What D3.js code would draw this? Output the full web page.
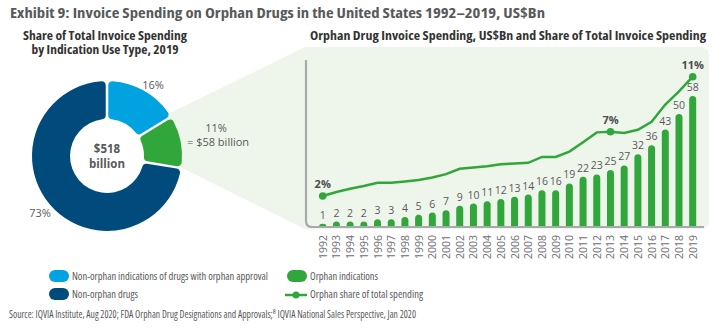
<!DOCTYPE html>
<html>
<head>
<meta charset="utf-8">
<script src="https://cdn.jsdelivr.net/npm/d3@7"></script>
<style>
  body { margin: 0; background: #fff; }
  svg text { font-family: 'Open Sans', sans-serif; font-stretch: 87.5%; fill: #58595b; }
  svg text.num { font-stretch: 100%; }
</style>
</head>
<body>
<svg id="chart" width="727" height="330"></svg>
<script>
// donut, 2019 share of total invoice spending
var segNames = ['Non-orphan indications of drugs with orphan approval', 'Orphan indications', 'Non-orphan drugs'];
var segShare = [16, 11, 73];
var segLabels = ['16%', '11%', '73%'];

// bars + line
var years = ['1992','1993','1994','1995','1996','1997','1998','1999','2000','2001','2002','2003','2004','2005',
             '2006','2007','2008','2009','2010','2011','2012','2013','2014','2015','2016','2017','2018','2019'];
var spend = [1,2,2,2,3,3,4,5,6,7,9,10,11,12,13,14,16,16,19,22,23,25,27,32,36,43,50,58];
var share = [2.0,2.3,2.55,2.75,3.0,3.0,3.1,3.2,3.4,3.65,4.05,4.15,4.25,4.4,4.45,4.5,4.95,4.95,5.35,6.05,6.8,6.85,6.75,7.0,7.6,8.9,9.9,11.0];
var shareLabels = {'1992': '2%', '2013': '7%', '2019': '11%'};

var lightBlue = '#00a3e0', darkBlue = '#004a7c', green = '#31a63a', panelFill = '#eef6eb';

var svg = d3.select('#chart');

// text helper, width forced so the condensed face lines up with the original
var label = (px, py, txt, size, w, bold, anchor, col) => {
  var t = svg.append('text').attr('x', px).attr('y', py)
     .style('font-size', size + 'px').text(txt);
  if (bold) t.style('font-weight', 'bold');
  if (anchor) t.attr('text-anchor', anchor);
  if (col) t.style('fill', col);
  if (w) t.attr('textLength', w).attr('lengthAdjust', 'spacingAndGlyphs');
  return t;
};

label(10, 18, 'Exhibit 9: Invoice Spending on Orphan Drugs in the United States 1992\u20132019, US$Bn', 15, 535, true);

label(105, 40, 'Share of Total Invoice Spending', 11.5, 164, true, 'middle', '#333');
label(105, 53.5, 'by Indication Use Type, 2019', 11.5, 147, true, 'middle', '#333');
label(508, 40, 'Orphan Drug Invoice Spending, US$Bn and Share of Total Invoice Spending', 11.5, 396, true, 'middle', '#333');

// zoom wedge + panel
svg.append('polygon').attr('points', '166,115 305,47 305,229 180,167').attr('fill', panelFill);
svg.append('rect').attr('x', 299).attr('y', 47).attr('width', 410).attr('height', 182)
   .attr('rx', 8).attr('fill', panelFill);

// donut
var cx = 107, cy = 156;
var pie = d3.pie().sort(null).startAngle(0).endAngle(2 * Math.PI).padAngle(0.03);
var arc = d3.arc().innerRadius(37).outerRadius(75).cornerRadius(4);
var arcs = pie(segShare);
var segColors = [lightBlue, green, darkBlue];
var donut = svg.append('g').attr('transform', 'translate(' + cx + ',' + cy + ')');
donut.selectAll('path').data(arcs).enter().append('path')
     .attr('d', arc).attr('fill', (d, i) => segColors[i]);

donut.append('text').attr('class', 'num').attr('x', 0).attr('y', -3).attr('text-anchor', 'middle')
     .style('font-size', '11.5px').style('font-weight', 'bold').text('$518');
donut.append('text').attr('class', 'num').attr('x', 0).attr('y', 12).attr('text-anchor', 'middle')
     .style('font-size', '11.5px').style('font-weight', 'bold').text('billion');

label(153, 89, segLabels[0], 11, null, false, 'middle').attr('class', 'num');
label(216, 132, segLabels[1], 11, null, false, 'middle').attr('class', 'num');
label(187, 146, '= $' + spend[spend.length - 1] + ' billion', 11).attr('class', 'num');
label(40, 217, segLabels[2], 11, null, false, 'middle').attr('class', 'num');

// bar chart
var x = d3.scalePoint().domain(years).range([315.85, 699.55]).padding(0.5);
var y = d3.scaleLinear().domain([0, 58]).range([226, 96]);
var yShare = d3.scaleLinear().domain([2, 11]).range([196, 76.7]);
var bw = 7;

var barPath = (d, i) => {
  var x0 = x(years[i]) - bw / 2, y0 = y(d), base = y(0), r = bw / 2;
  var h = base - y0;
  var rr = Math.min(r, h);
  return 'M' + x0 + ',' + base + 'V' + (y0 + rr) +
         'A' + r + ',' + rr + ' 0 0 1 ' + (x0 + bw) + ',' + (y0 + rr) +
         'V' + base + 'Z';
};

svg.append('g').selectAll('path').data(spend).enter().append('path')
   .attr('d', barPath).attr('fill', green);

svg.append('g').selectAll('text').data(spend).enter().append('text')
   .attr('class', 'num')
   .attr('x', (d, i) => x(years[i])).attr('y', d => y(d) - 5)
   .attr('text-anchor', 'middle').style('font-size', '10.5px')
   .text(d => d);

// axis L
svg.append('path').attr('d', 'M306,60V221Q306,227 312,227H704')
   .attr('fill', 'none').attr('stroke', '#a8a9ad').attr('stroke-width', 2.2);

// year labels
svg.append('g').selectAll('text').data(years).enter().append('text')
   .attr('class', 'num')
   .attr('transform', d => 'translate(' + (x(d) + 4) + ',235) rotate(-90)')
   .attr('text-anchor', 'end').style('font-size', '10.5px').style('fill', '#6d6e71')
   .text(d => d);

// share line
var line = d3.line().x((d, i) => x(years[i])).y(d => yShare(d));
svg.append('path').datum(share).attr('d', line)
   .attr('fill', 'none').attr('stroke', green).attr('stroke-width', 2.5);

var marked = years.filter(yr => shareLabels[yr]);
svg.append('g').selectAll('circle').data(marked).enter().append('circle')
   .attr('cx', d => x(d)).attr('cy', d => yShare(share[years.indexOf(d)]))
   .attr('r', 3.8).attr('fill', green);
svg.append('g').selectAll('text').data(marked).enter().append('text')
   .attr('class', 'num')
   .attr('x', d => x(d)).attr('y', d => yShare(share[years.indexOf(d)]) - 8)
   .attr('text-anchor', 'middle').style('font-size', '11px').style('font-weight', 'bold')
   .style('fill', '#4d4d4f').text(d => shareLabels[d]);

// legend
var pill = (px, py, col) => svg.append('rect').attr('x', px).attr('y', py)
   .attr('width', 20).attr('height', 12).attr('rx', 6).attr('fill', col);
pill(49, 270, lightBlue);
label(72, 280, segNames[0], 11.5, 196);
pill(49, 288, darkBlue);
label(72, 298, segNames[2], 11.5, 66);
pill(287, 270, green);
label(310, 280, segNames[1], 11.5, 68);
svg.append('line').attr('x1', 285).attr('x2', 307).attr('y1', 295).attr('y2', 295)
   .attr('stroke', green).attr('stroke-width', 2.5);
svg.append('circle').attr('cx', 296).attr('cy', 295).attr('r', 3.5).attr('fill', green);
label(310, 298, 'Orphan share of total spending', 11.5, 113);

label(9, 318, 'Source: IQVIA Institute, Aug 2020; FDA Orphan Drug Designations and Approvals;\u2078 IQVIA National Sales Perspective, Jan 2020', 10, 407);
</script>
</body>
</html>
